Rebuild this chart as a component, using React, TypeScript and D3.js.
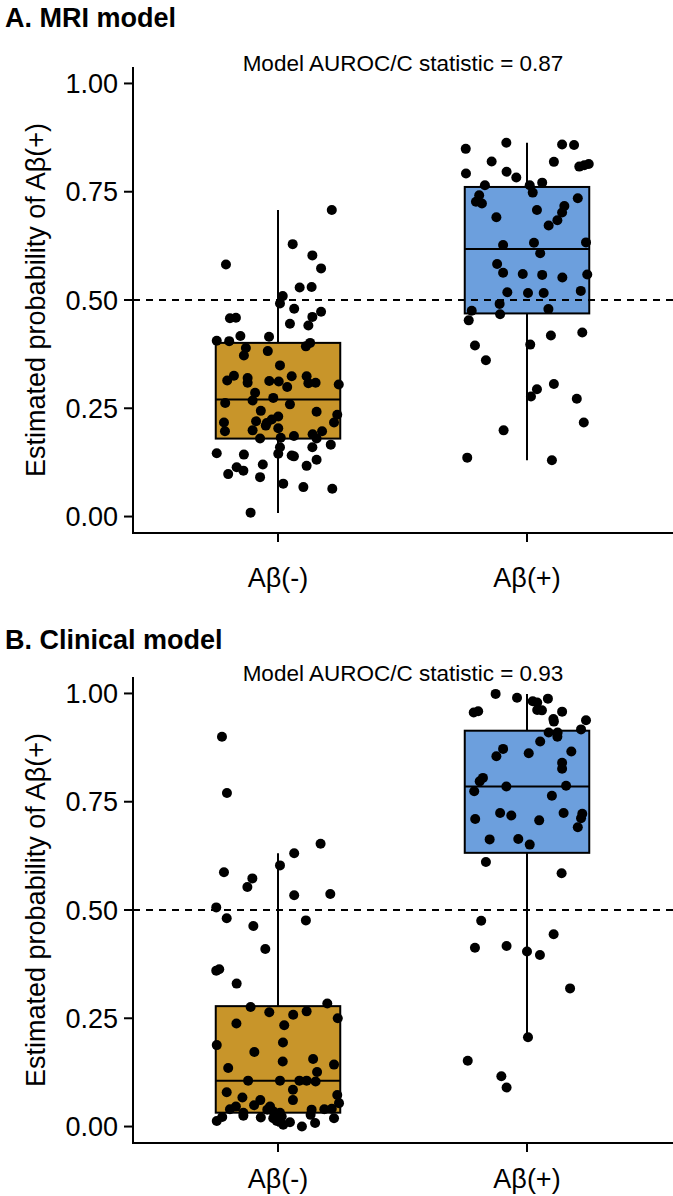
import React from "react";
import * as d3 from "d3";

// ---------- data ----------
const CATEGORIES = ["Aβ(-)", "Aβ(+)"];
const Y_TICKS = [0, 0.25, 0.5, 0.75, 1];
const Y_LABEL = "Estimated probability of Aβ(+)";
const PANEL_TITLES = ["A. MRI model", "B. Clinical model"];
const AUC_LABELS = ["Model AUROC/C statistic = 0.87", "Model AUROC/C statistic = 0.93"];
const THRESHOLD = 0.5;

// box stats: [lower whisker, q1, median, q3, upper whisker]
const MRI_BOX_NEG = [0.008, 0.18, 0.27, 0.401, 0.708];
const MRI_BOX_POS = [0.13, 0.469, 0.618, 0.761, 0.863];
const CLIN_BOX_NEG = [0.0, 0.032, 0.106, 0.278, 0.631];
const CLIN_BOX_POS = [0.206, 0.632, 0.785, 0.914, 0.999];

// jittered points: [jitter (category units), probability]
const MRI_NEG: [number, number][] = [
  [0.216, 0.708], [0.059, 0.629], [-0.209, 0.582], [0.138, 0.603], [0.173, 0.573],
  [0.087, 0.529], [0.135, 0.53], [0.019, 0.509], [0.008, 0.492], [0.065, 0.48],
  [0.138, 0.461], [0.173, 0.473], [-0.193, 0.458], [-0.169, 0.459], [0.048, 0.445],
  [0.122, 0.441], [-0.246, 0.406], [-0.196, 0.405], [-0.151, 0.417], [-0.036, 0.415],
  [0.112, 0.393], [0.129, 0.401], [-0.129, 0.389], [-0.041, 0.382], [-0.137, 0.372],
  [0.008, 0.349], [-0.177, 0.325], [-0.204, 0.314], [-0.122, 0.32], [-0.122, 0.309],
  [-0.035, 0.313], [0.003, 0.312], [0.055, 0.324], [0.037, 0.299], [0.115, 0.324],
  [0.122, 0.308], [0.151, 0.309], [0.244, 0.305], [-0.092, 0.286], [-0.102, 0.268],
  [-0.019, 0.274], [-0.212, 0.262], [0.048, 0.259], [-0.069, 0.244], [0.155, 0.242],
  [0.238, 0.235], [0.225, 0.217], [-0.217, 0.217], [-0.213, 0.197], [-0.088, 0.22],
  [-0.045, 0.216], [-0.025, 0.224], [0.001, 0.231], [-0.049, 0.21], [0.001, 0.204],
  [-0.102, 0.199], [0.139, 0.19], [0.177, 0.197], [0.064, 0.186], [-0.072, 0.18],
  [0.011, 0.182], [0.155, 0.18], [0.008, 0.16], [0.138, 0.16], [0.212, 0.166],
  [0.001, 0.145], [-0.246, 0.146], [-0.137, 0.143], [0.055, 0.141], [0.064, 0.139],
  [0.155, 0.131], [-0.061, 0.12], [0.115, 0.117], [-0.166, 0.114], [-0.139, 0.106],
  [-0.2, 0.098], [-0.072, 0.091], [0.021, 0.076], [0.102, 0.068], [0.218, 0.064],
  [-0.11, 0.009],
];

const MRI_POS: [number, number][] = [
  [-0.246, 0.849], [-0.083, 0.863], [0.141, 0.859], [0.189, 0.858], [-0.142, 0.82],
  [0.108, 0.819], [-0.245, 0.792], [-0.082, 0.796], [-0.043, 0.783], [0.21, 0.808],
  [0.23, 0.811], [0.248, 0.814], [-0.169, 0.765], [0.011, 0.765], [0.061, 0.771],
  [0.023, 0.748], [-0.192, 0.742], [-0.205, 0.727], [-0.181, 0.723], [0.204, 0.735],
  [0.04, 0.708], [0.15, 0.717], [0.141, 0.702], [0.122, 0.684], [0.087, 0.672],
  [-0.123, 0.691], [-0.096, 0.627], [0.028, 0.632], [0.237, 0.633], [0.053, 0.608],
  [-0.12, 0.583], [-0.096, 0.563], [-0.017, 0.56], [0.061, 0.558], [0.142, 0.552],
  [0.242, 0.559], [-0.079, 0.518], [0.004, 0.516], [0.067, 0.516], [0.216, 0.521],
  [-0.11, 0.491], [-0.222, 0.475], [-0.108, 0.467], [0.086, 0.479], [-0.234, 0.453],
  [0.096, 0.418], [0.222, 0.425], [-0.209, 0.395], [0.013, 0.397], [-0.165, 0.361],
  [0.108, 0.306], [0.04, 0.294], [0.016, 0.277], [0.2, 0.272], [-0.094, 0.199],
  [0.228, 0.217], [-0.24, 0.136], [0.1, 0.13],
];

const CLIN_NEG: [number, number][] = [
  [-0.225, 0.9], [-0.205, 0.77],
  [0.171, 0.653], [0.065, 0.631], [0.008, 0.603], [-0.217, 0.587], [-0.103, 0.573],
  [-0.123, 0.553], [0.065, 0.534], [0.21, 0.537], [-0.248, 0.506], [-0.206, 0.481],
  [0.112, 0.476], [-0.099, 0.463], [-0.051, 0.41], [-0.248, 0.36], [-0.236, 0.363],
  [-0.166, 0.33], [-0.11, 0.276], [0.198, 0.284], [-0.035, 0.264], [0.061, 0.258],
  [0.115, 0.266], [0.24, 0.25], [-0.167, 0.238], [0.025, 0.234], [-0.246, 0.188],
  [0.02, 0.194], [-0.095, 0.172], [0.019, 0.15], [0.141, 0.156], [-0.2, 0.135],
  [0.225, 0.143], [0.157, 0.126], [-0.12, 0.106], [0.008, 0.106], [0.086, 0.106],
  [0.115, 0.106], [0.151, 0.104], [-0.206, 0.079], [0.06, 0.085], [0.238, 0.073],
  [-0.143, 0.067], [-0.071, 0.061], [0.06, 0.061], [0.245, 0.054], [-0.096, 0.049],
  [-0.193, 0.04], [-0.169, 0.046], [-0.032, 0.046], [-0.043, 0.039], [-0.139, 0.032],
  [0.008, 0.032], [0.135, 0.039], [0.186, 0.04], [0.216, 0.041], [-0.224, 0.022],
  [-0.246, 0.013], [-0.139, 0.025], [-0.069, 0.021], [-0.019, 0.019], [-0.005, 0.013],
  [0.015, 0.023], [0.021, 0.004], [0.048, 0.01], [0.096, 0.0], [0.149, 0.008],
  [0.131, 0.027], [0.225, 0.019], [-0.019, 0.035],
];

const CLIN_POS: [number, number][] = [
  [-0.126, 0.999], [-0.04, 0.99], [0.023, 0.982], [0.041, 0.979], [0.084, 0.988],
  [-0.214, 0.956], [-0.196, 0.959], [0.041, 0.962], [0.06, 0.961], [0.141, 0.958],
  [0.106, 0.941], [0.108, 0.935], [0.237, 0.938], [0.217, 0.917], [0.087, 0.91],
  [0.122, 0.9], [0.123, 0.91], [0.053, 0.889], [-0.096, 0.872], [-0.123, 0.855],
  [0.007, 0.862], [0.178, 0.866], [0.141, 0.84], [0.141, 0.826], [-0.177, 0.805],
  [-0.19, 0.797], [-0.212, 0.774], [-0.083, 0.785], [0.157, 0.787], [0.1, 0.764],
  [-0.208, 0.71], [-0.108, 0.724], [-0.063, 0.718], [0.049, 0.707], [0.147, 0.724],
  [0.222, 0.722], [0.217, 0.712], [0.204, 0.691], [-0.15, 0.663], [-0.035, 0.664],
  [0.011, 0.651], [-0.165, 0.611], [0.139, 0.585], [-0.184, 0.475], [0.107, 0.444],
  [-0.209, 0.413], [-0.082, 0.417], [0.0, 0.404], [0.052, 0.396], [0.173, 0.319],
  [0.004, 0.206], [-0.238, 0.152], [-0.103, 0.116], [-0.082, 0.09],
];

// ---------- styling / layout ----------
const W = 673;
const H = 1196;
const FILLS = ["#C8952A", "#6C9FDD"];
const FONT = "'Liberation Sans', Arial, Helvetica, sans-serif";

const PANELS = [
  {
    title: PANEL_TITLES[0], auc: AUC_LABELS[0],
    boxes: [MRI_BOX_NEG, MRI_BOX_POS], points: [MRI_NEG, MRI_POS],
    axisTop: 67, axisBottom: 533, titleY: 27, xLabelY: 587,
  },
  {
    title: PANEL_TITLES[1], auc: AUC_LABELS[1],
    boxes: [CLIN_BOX_NEG, CLIN_BOX_POS], points: [CLIN_NEG, CLIN_POS],
    axisTop: 677, axisBottom: 1143, titleY: 649, xLabelY: 1188,
  },
];

const AXIS_X = 133;
const Y_DOMAIN: [number, number] = [-0.038, 1.038];
const xScale = d3.scaleLinear().domain([1, 2]).range([278, 527]);
const BOX_HALF = 0.25;

function Panel({ p }: { p: typeof PANELS[number] }) {
  const y = d3.scaleLinear().domain(Y_DOMAIN).range([p.axisBottom, p.axisTop]);
  const fmt = d3.format(".2f");
  const midY = (p.axisTop + p.axisBottom) / 2;
  return (
    <g>
      <text x={5} y={p.titleY} fontFamily={FONT} fontWeight="bold" fontSize={27} fill="#000">
        {p.title}
      </text>
      <text x={(AXIS_X + W) / 2} y={y(1) - 20} dy="0.35em" textAnchor="middle"
        fontFamily={FONT} fontSize={22.5} fill="#000">
        {p.auc}
      </text>

      {/* boxes */}
      {p.boxes.map((b, i) => {
        const cx = xScale(i + 1);
        const x0 = xScale(i + 1 - BOX_HALF);
        const x1 = xScale(i + 1 + BOX_HALF);
        return (
          <g key={"b" + i}>
            <line x1={cx} x2={cx} y1={y(b[0])} y2={y(b[1])} stroke="#000" strokeWidth={2} />
            <line x1={cx} x2={cx} y1={y(b[3])} y2={y(b[4])} stroke="#000" strokeWidth={2} />
            <rect x={x0} y={y(b[3])} width={x1 - x0} height={y(b[1]) - y(b[3])}
              fill={FILLS[i]} stroke="#000" strokeWidth={2} />
            <line x1={x0} x2={x1} y1={y(b[2])} y2={y(b[2])} stroke="#000" strokeWidth={2} />
          </g>
        );
      })}

      {/* points */}
      {p.points.map((pts, i) => (
        <g key={"p" + i}>
          {pts.map((d, j) => (
            <circle key={j} cx={xScale(i + 1 + d[0])} cy={y(d[1])} r={5} fill="#000" />
          ))}
        </g>
      ))}

      {/* threshold */}
      <line x1={AXIS_X} x2={W} y1={y(THRESHOLD)} y2={y(THRESHOLD)}
        stroke="#000" strokeWidth={2} strokeDasharray="7,6" />

      {/* y axis */}
      <line x1={AXIS_X} x2={AXIS_X} y1={p.axisTop} y2={p.axisBottom + 1} stroke="#000" strokeWidth={2} />
      {Y_TICKS.map((t) => (
        <g key={t}>
          <line x1={AXIS_X - 9} x2={AXIS_X} y1={y(t)} y2={y(t)} stroke="#000" strokeWidth={2} />
          <text x={118} y={y(t)} dy="0.36em" textAnchor="end" fontFamily={FONT} fontSize={27} fill="#000">
            {fmt(t)}
          </text>
        </g>
      ))}
      <text transform={`translate(35,${midY}) rotate(-90)`} textAnchor="middle" dy="0.36em"
        fontFamily={FONT} fontSize={27} fill="#000">
        {Y_LABEL}
      </text>

      {/* x axis */}
      <line x1={AXIS_X - 1} x2={W} y1={p.axisBottom} y2={p.axisBottom} stroke="#000" strokeWidth={2} />
      {CATEGORIES.map((c, i) => (
        <g key={c}>
          <line x1={xScale(i + 1)} x2={xScale(i + 1)} y1={p.axisBottom} y2={p.axisBottom + 9}
            stroke="#000" strokeWidth={2} />
          <text x={xScale(i + 1)} y={p.xLabelY} textAnchor="middle" fontFamily={FONT} fontSize={27} fill="#000">
            {c}
          </text>
        </g>
      ))}
    </g>
  );
}

export default function App() {
  return (
    <svg width={W} height={H} viewBox={`0 0 ${W} ${H}`}
      style={{ position: "absolute", left: 0, top: 0, background: "#fff" }}>
      <rect width={W} height={H} fill="#fff" />
      {PANELS.map((p, i) => (
        <Panel key={i} p={p} />
      ))}
    </svg>
  );
}
